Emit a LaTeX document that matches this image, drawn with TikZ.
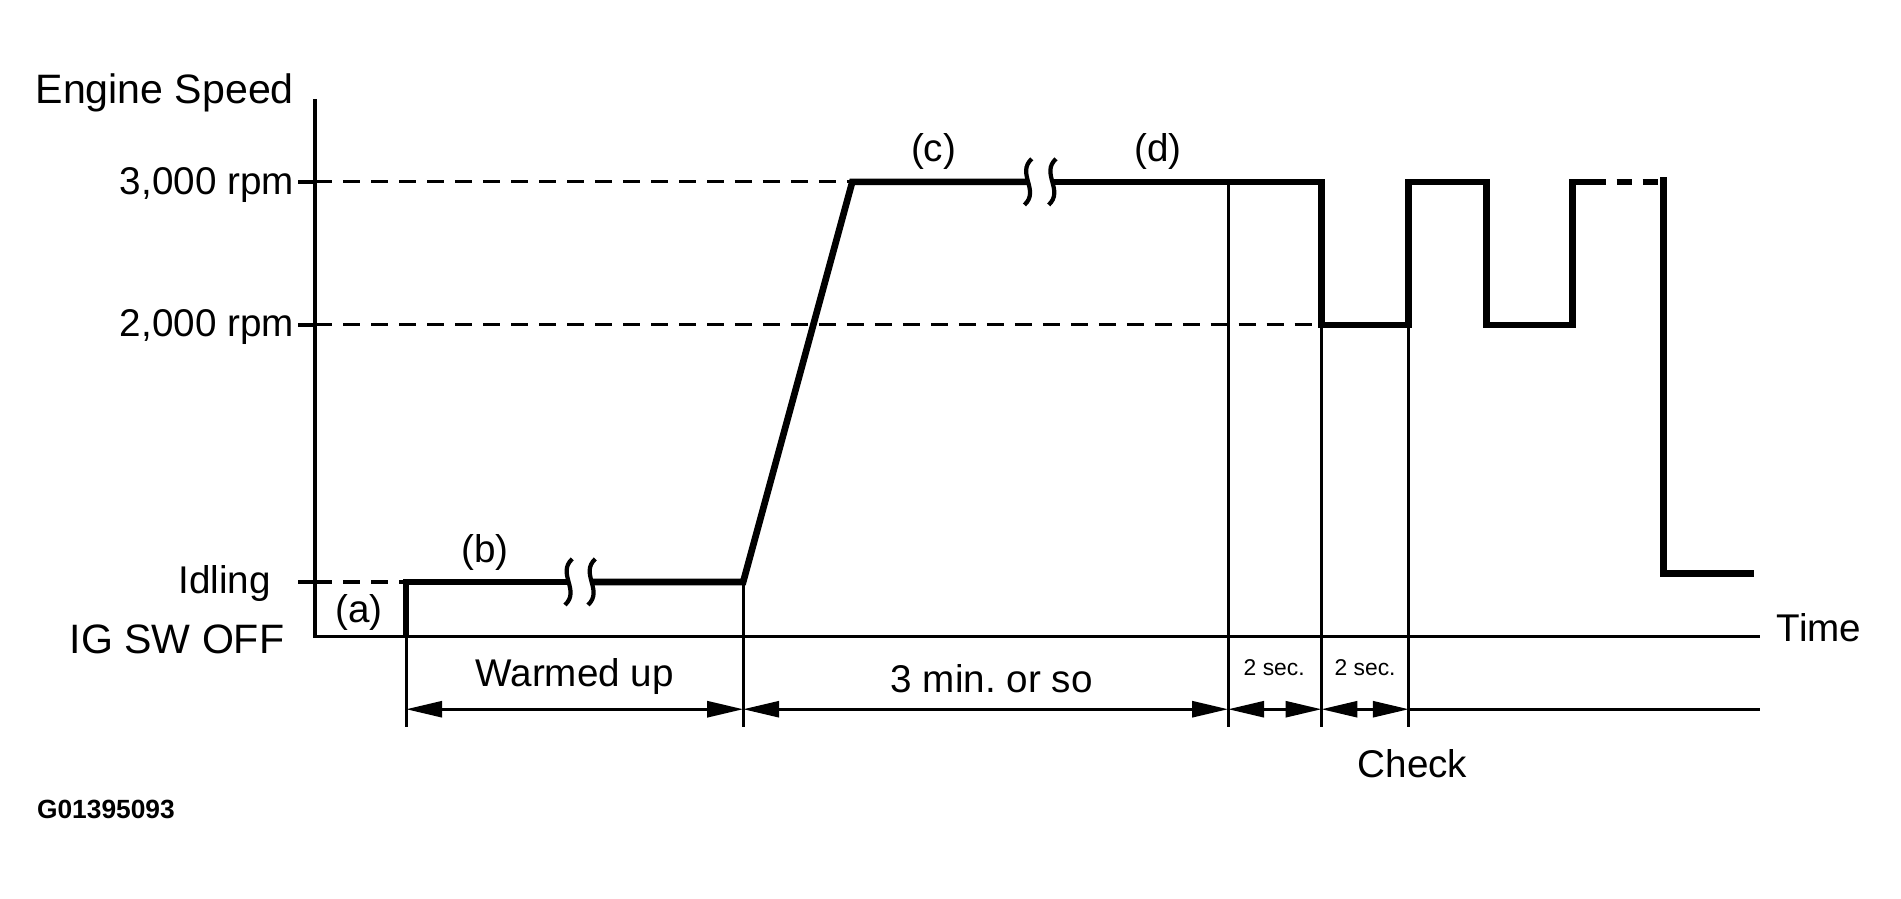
\documentclass[tikz,border=0pt]{standalone}
\usepackage{fontspec}
\setmainfont{Liberation Sans}
\usetikzlibrary{positioning,arrows.meta}
\frenchspacing

\begin{document}
\begin{tikzpicture}[
        x=0.012124cm, y=-0.012124cm,
        curve/.style={line width=1.9pt, line join=miter},
        brk/.style={line width=1.2pt},
        axis/.style={line width=1.1pt},
        guide/.style={line width=0.9pt, dash pattern=on 1.7mm off 1.1mm},
        marker/.style={line width=0.8pt},
        span/.style={line width=0.8pt, {Triangle[length=3.6mm,width=1.6mm]}-{Triangle[length=3.6mm,width=1.6mm]}},
        label/.style={font=\fontsize{11}{13}\selectfont, inner sep=0pt},
        small/.style={font=\fontsize{6.5}{8}\selectfont, inner sep=0pt}
    ]
    \useasboundingbox (0,0) rectangle (1568,741);

    % Axes
    \coordinate (top) at (260,82);
    \coordinate (origin) at (260,525);
    \coordinate (tend) at (1452,525);
    \draw[axis] (top) -- (origin) -- (tend);
    \foreach \y in {150,268,480}
        \draw[axis] (246,\y) -- (260,\y);

    % Axis labels
    \node[label, anchor=east, font=\fontsize{11.7}{13}\selectfont] (speed) at (243,77) {Engine Speed};
    \node[label, anchor=east] (r3000) at (243,153) {3,000 rpm};
    \node[label, anchor=east] (r2000) at (243,270) {2,000 rpm};
    \node[label, anchor=east] (idle) at (224,481) {Idling};
    \node[label, anchor=east, font=\fontsize{11.7}{13}\selectfont] (off) at (235,527) {IG SW OFF};
    \node[label, anchor=west] (time) at (1465,518) {Time};

    % Key points of the speed curve
    \coordinate (start) at (335,525);
    \coordinate (warm) at (335,480);
    \coordinate (rampA) at (613,480);
    \coordinate (rampB) at (703,150);
    \coordinate (hold) at (1013,150);
    \coordinate (dropA) at (1090,268);
    \coordinate (riseA) at (1162,268);
    \coordinate (dropB) at (1226,268);
    \coordinate (riseB) at (1297,268);
    \coordinate (last) at (1372,150);

    % Reference levels
    \draw[guide] (260,150) -- (rampB);
    \draw[guide] (260,268) -- (dropA);
    \draw[guide] (260,480) -- (warm);

    % Speed curve
    \draw[curve] (start) -- (warm) -- (469,480);
    \draw[curve] (488,480) -- (rampA) -- (rampB) -- (848,150);
    \draw[curve] (868,150) -- (1090,150) -- (dropA) -- (riseA) -- (1162,150)
        -- (1226,150) -- (dropB) -- (riseB) -- (1297,150) -- (1312,150);
    \draw[curve, dash pattern=on 1.5mm off 1.1mm] (1312,150) -- (last);
    \draw[curve] (1372,146) -- (1372,473) -- (1447,473);
    \foreach \x/\y in {469/480, 488/480, 848/150, 868/150}
        \draw[brk] (\x+3,\y-19) .. controls (\x-10,\y-7) and (\x+10,\y+7) .. (\x-3,\y+19);

    % Time markers
    \draw[marker] (warm) -- (335,600);
    \draw[marker] (rampA) -- (613,600);
    \draw[marker] (hold) -- (1013,600);
    \draw[marker] (dropA) -- (1090,600);
    \draw[marker] (riseA) -- (1162,600);

    % Durations
    \draw[span] (335,585) -- (613,585);
    \draw[span] (613,585) -- (1013,585);
    \draw[span] (1013,585) -- (1090,585);
    \draw[span] (1090,585) -- (1162,585);
    \draw[marker] (1162,585) -- (1452,585);

    \node[label] (warmed) at (474,558) {Warmed up};
    \node[label] (threemin) at (818,560) {3 min. or so};
    \node[small] (twoA) at (1051,551) {2 sec.};
    \node[small] (twoB) at (1126,551) {2 sec.};
    \node[label] (check) at (1165,630) {Check};

    % Stage labels
    \node[label] (a) at (296,505) {(a)};
    \node[label] (b) at (400,456) {(b)};
    \node[label] (c) at (770,125) {(c)};
    \node[label] (d) at (955,125) {(d)};

    \node[font=\fontsize{7.5}{9}\selectfont\bfseries, inner sep=0pt, anchor=west] (fig) at (30,668) {G01395093};
\end{tikzpicture}
\end{document}
